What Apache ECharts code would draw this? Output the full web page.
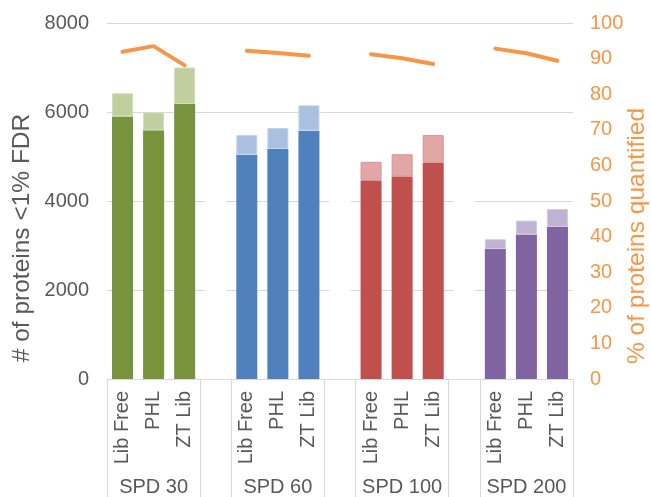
<!DOCTYPE html>
<html>
<head>
<meta charset="utf-8">
<script src="https://cdn.jsdelivr.net/npm/echarts@6/dist/echarts.min.js"></script>
<style>
  html, body { margin: 0; padding: 0; background: #fff; }
  #chart { width: 651px; height: 497px; }
</style>
</head>
<body>
<div id="chart"></div>
<script>
// Sample groups and search strategies
const groups = ['SPD 30', 'SPD 60', 'SPD 100', 'SPD 200'];
const methods = ['Lib Free', 'PHL', 'ZT Lib'];

// Proteins quantified (<1% FDR) per group, per method
const quantified = [
  [5900, 5590, 6180],
  [5040, 5170, 5580],
  [4450, 4550, 4860],
  [2920, 3250, 3420]
];
// Proteins identified (<1% FDR) per group, per method
const identified = [
  [6420, 5990, 7000],
  [5480, 5640, 6150],
  [4880, 5050, 5480],
  [3140, 3560, 3820]
];
// % of proteins quantified
const pctQuantified = [
  [91.9, 93.5, 88.1],
  [92.2, 91.6, 90.8],
  [91.2, 90.1, 88.5],
  [92.8, 91.5, 89.4]
];
// White spacer column between groups
const spacerValue = 5000;

const leftTicks = { min: 0, max: 8000, interval: 2000 };
const rightTicks = { min: 0, max: 100, interval: 10 };

const darkColors = ['#77933C', '#4F81BD', '#C0504D', '#8064A2'];
const lightColors = ['#C0CF9E', '#A9C0E0', '#E0A7A6', '#C0B2D3'];
const lightBorders = ['#D2DDB8', '#C2D3EA', '#D9918F', '#D3C9E0'];

// Flatten into one category axis with an empty slot between groups
const categories = [];
const groupLabels = [];
const darkData = [];
const lightData = [];
const spacerData = [];
const lineData = [];
groups.forEach((g, gi) => {
  methods.forEach((m, mi) => {
    categories.push(m);
    groupLabels.push(mi === 1 ? g : '');
    darkData.push({ value: quantified[gi][mi], itemStyle: { color: darkColors[gi] } });
    lightData.push({
      value: identified[gi][mi] - quantified[gi][mi],
      itemStyle: { color: lightColors[gi], borderColor: lightBorders[gi], borderWidth: 1 }
    });
    spacerData.push(null);
    lineData.push(pctQuantified[gi][mi]);
  });
  if (gi < groups.length - 1) {
    categories.push('');
    groupLabels.push('');
    darkData.push(null);
    lightData.push(null);
    spacerData.push(spacerValue);
    lineData.push(null);
  }
});

const FONT = 'Liberation Sans, Arial, sans-serif';
const GRAY = '#595959';
const ORANGE = '#F79646';
const RULE = '#D9D9D9';

const chart = echarts.init(document.getElementById('chart'), null, { renderer: 'canvas' });
chart.setOption({
  animation: false,
  backgroundColor: '#fff',
  grid: { left: 107, right: 78, top: 23, bottom: 118, containLabel: false },
  xAxis: [
    {
      type: 'category',
      data: categories,
      boundaryGap: true,
      axisLine: { show: true, lineStyle: { color: RULE, width: 1 } },
      axisTick: {
        show: true,
        length: 118,
        interval: (i) => i % 4 === 0 || i % 4 === 3,
        lineStyle: { color: RULE, width: 1 }
      },
      axisLabel: {
        interval: 0,
        rotate: 90,
        margin: 12,
        fontSize: 20,
        fontFamily: FONT,
        color: GRAY
      },
      splitLine: { show: false }
    },
    {
      type: 'category',
      data: groupLabels,
      position: 'bottom',
      boundaryGap: true,
      axisLine: { show: false },
      axisTick: { show: false },
      axisLabel: {
        interval: 0,
        margin: 98,
        fontSize: 20,
        fontFamily: FONT,
        color: GRAY
      },
      splitLine: { show: false }
    }
  ],
  yAxis: [
    {
      type: 'value',
      min: leftTicks.min,
      max: leftTicks.max,
      interval: leftTicks.interval,
      axisLine: { show: false },
      axisTick: { show: false },
      axisLabel: {
        margin: 18, fontSize: 20, fontFamily: FONT, color: GRAY,
        formatter: (v) => String(v)
      },
      splitLine: { show: true, lineStyle: { color: RULE, width: 1 } }
    },
    {
      type: 'value',
      position: 'right',
      min: rightTicks.min,
      max: rightTicks.max,
      interval: rightTicks.interval,
      axisLine: { show: false },
      axisTick: { show: false },
      axisLabel: {
        margin: 17, fontSize: 20, fontFamily: FONT, color: ORANGE,
        formatter: (v) => String(v)
      },
      splitLine: { show: false }
    }
  ],
  series: [
    {
      name: 'spacer',
      type: 'bar',
      stack: 'proteins',
      barWidth: 21,
      data: spacerData,
      itemStyle: { color: '#fff' },
      silent: true,
      z: 1
    },
    {
      name: 'Quantified',
      type: 'bar',
      stack: 'proteins',
      barWidth: 21,
      data: darkData,
      z: 2
    },
    {
      name: 'Identified',
      type: 'bar',
      stack: 'proteins',
      barWidth: 21,
      data: lightData,
      z: 2
    },
    {
      name: '% quantified',
      type: 'line',
      yAxisIndex: 1,
      data: lineData,
      connectNulls: false,
      symbol: 'none',
      lineStyle: { color: ORANGE, width: 4, cap: 'round', join: 'round' },
      z: 5
    }
  ],
  graphic: [
    {
      type: 'text',
      x: 22,
      y: 238,
      rotation: Math.PI / 2,
      style: {
        text: '# of proteins <1% FDR',
        fontSize: 24.5,
        fontFamily: FONT,
        fill: GRAY,
        align: 'center',
        verticalAlign: 'middle'
      }
    },
    {
      type: 'text',
      x: 637,
      y: 236,
      rotation: Math.PI / 2,
      style: {
        text: '% of proteins quantified',
        fontSize: 24.5,
        fontFamily: FONT,
        fill: ORANGE,
        align: 'center',
        verticalAlign: 'middle'
      }
    }
  ]
});
</script>
</body>
</html>
